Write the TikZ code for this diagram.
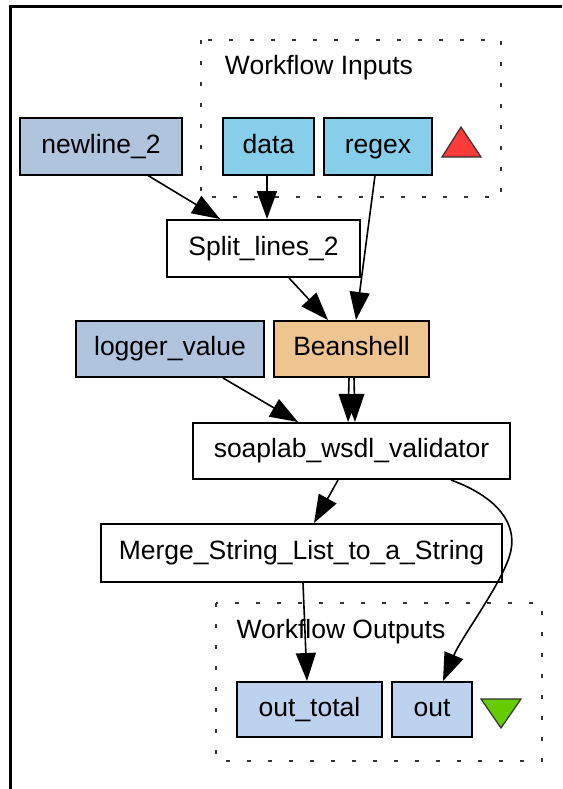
\documentclass[tikz,border=0pt]{standalone}
\usepackage{fontspec}
\setmainfont{Liberation Sans}
\usetikzlibrary{arrows.meta}
\definecolor{constblue}{HTML}{B0C4DE}
\definecolor{inblue}{HTML}{87CEEB}
\definecolor{outblue}{HTML}{BCD2EE}
\definecolor{beanfill}{HTML}{EEC591}
\definecolor{trired}{HTML}{FF3A3A}
\definecolor{trigreen}{HTML}{66CC00}
\begin{document}
\begin{tikzpicture}[x=1pt,y=-1pt,
  proc/.style={draw=black, line width=2pt, rectangle, inner sep=0pt,
    minimum height=56pt, text height=18pt, text depth=5pt,
    font=\fontsize{26.5}{30}\selectfont},
  edge/.style={line width=1.6pt, -{Triangle[length=28pt,width=20pt]}},
  cluster/.style={draw=black!80, line width=2.6pt, dash pattern=on 4pt off 17pt},
  clabel/.style={font=\fontsize{26.5}{30}\selectfont, text height=18pt, text depth=5pt, inner sep=0pt}
]
\useasboundingbox (0,0) rectangle (562,789);

% outer frame
\draw[line width=3pt] (10,789) -- (10,6.7) -- (562,6.7);

% clusters
\draw[cluster] (201,40) rectangle (501,197);
\node[clabel] (inlabel) at (319,68) {Workflow Inputs};
\draw[cluster] (216,603) rectangle (542,761);
\node[clabel] (outlabel) at (341,632) {Workflow Outputs};

% nodes
\node[proc, fill=constblue, minimum width=162pt] (newline) at (101,146.5) {newline\_2};
\node[proc, fill=inblue, minimum width=91pt] (data) at (268.5,146.5) {data};
\node[proc, fill=inblue, minimum width=108pt] (regex) at (378,146.5) {regex};
\node[proc, fill=white, minimum width=193pt, minimum height=57pt] (split) at (263.5,248.5) {Split\_lines\_2};
\node[proc, fill=constblue, minimum width=188pt] (logger) at (170,349) {logger\_value};
\node[proc, fill=beanfill, minimum width=155pt] (bean) at (351.5,349) {Beanshell};
\node[proc, fill=white, minimum width=317pt] (soap) at (351.5,451) {soaplab\_wsdl\_validator};
\node[proc, fill=white, minimum width=401pt, minimum height=58pt] (merge) at (301.5,553) {Merge\_String\_List\_to\_a\_String};
\node[proc, fill=outblue, minimum width=145pt, minimum height=55pt] (outtotal) at (309.5,709.5) {out\_total};
\node[proc, fill=outblue, minimum width=80pt, minimum height=55pt] (out) at (432,709.5) {out};

% port markers
\filldraw[fill=trired, draw=black!80, line width=1.2pt] (461,127) -- (481,157) -- (442,157) -- cycle;
\filldraw[fill=trigreen, draw=black!80, line width=1.2pt] (481,699) -- (521,699) -- (501,728) -- cycle;

% connectors
\draw[edge] ([xshift=47pt]newline.south) -- ([xshift=-43.5pt]split.north);
\draw[edge] ([xshift=-1.5pt]data.south) -- ([xshift=3.5pt]split.north);
\draw[edge] ([xshift=-3pt]regex.south) -- ([xshift=4.5pt]bean.north);
\draw[edge] ([xshift=25.5pt]split.south) -- ([xshift=-23.5pt]bean.north);
\draw[edge] ([xshift=53pt]logger.south) -- ([xshift=-53.5pt]soap.north);
\draw[edge] ([xshift=-2.5pt]bean.south) -- ([xshift=-3.5pt]soap.north);
\draw[edge] ([xshift=2.5pt]bean.south) -- ([xshift=3.5pt]soap.north);
\draw[edge] ([xshift=-13.5pt]soap.south) -- ([xshift=12.5pt]merge.north);
\draw[edge] ([xshift=99.5pt]soap.south) .. controls (500,498) and (516,525) .. (511,550)
  .. controls (506,578) and (462,636) .. ([xshift=11pt]out.north);
\draw[edge] ([xshift=1.5pt]merge.south) -- ([xshift=-2.5pt]outtotal.north);
\end{tikzpicture}
\end{document}
